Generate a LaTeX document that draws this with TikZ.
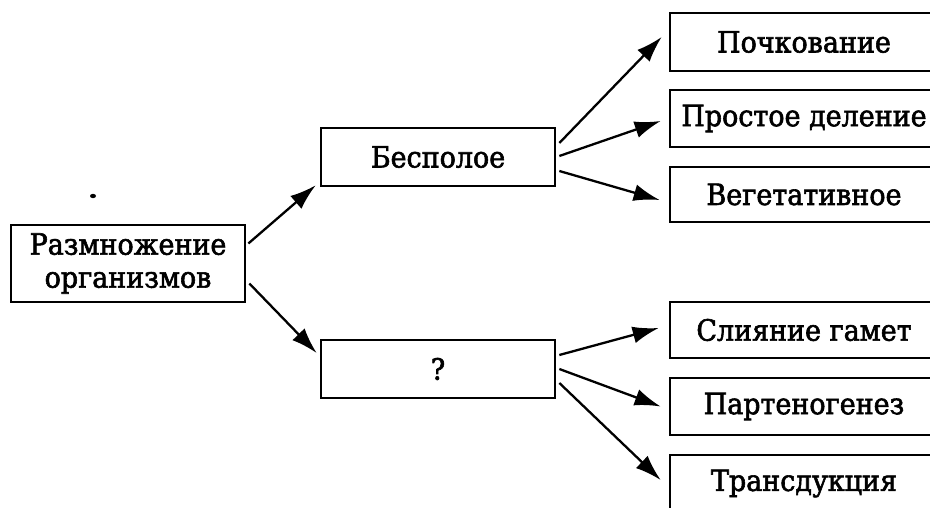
\documentclass[tikz,border=0pt]{standalone}
\usepackage{fontspec}
\setmainfont{DejaVu Serif}[FakeBold=2,FakeStretch=0.92]
\usetikzlibrary{arrows.meta}
\begin{document}
\begin{tikzpicture}[x=1pt,y=-1pt,
  box/.style={draw=black,line width=2.7pt,rectangle,inner sep=0pt,align=center,
    font=\fontsize{29.3}{33}\selectfont},
  arr/.style={line width=2.3pt,-{Latex[length=26pt,width=17pt]}}]
\path[use as bounding box] (0,0) rectangle (930,508);
\clip (0,0) rectangle (930,508);
\node[box,minimum width=234pt,minimum height=77pt] (root) at (128,263.5) {Размножение\\организмов};
\node[box,minimum width=234pt,minimum height=58pt] (bes) at (438,157) {Бесполое};
\node[box,minimum width=234pt,minimum height=58pt] (q) at (438,369) {?};
\node[box,minimum width=268pt,minimum height=58pt] (poch) at (804,42) {Почкование};
\node[box,minimum width=268pt,minimum height=57pt] (pros) at (804,118.5) {Простое деление};
\node[box,minimum width=268pt,minimum height=55pt] (veg) at (804,194.5) {Вегетативное};
\node[box,minimum width=268pt,minimum height=56pt] (sli) at (804,330) {Слияние гамет};
\node[box,minimum width=268pt,minimum height=57pt] (par) at (804,406.5) {Партеногенез};
\node[box,minimum width=268pt,minimum height=57pt] (tra) at (804,483.5) {Трансдукция};
\fill (93,196) ellipse (3pt and 2.2pt);
\draw[arr] ([xshift=2pt,yshift=20pt]root.east) -- ([xshift=-4pt,yshift=2pt]bes.south west);
\draw[arr] ([xshift=3pt,yshift=-20pt]root.east) -- ([xshift=-3pt,yshift=16pt]q.west);
\draw[arr] ([xshift=3pt,yshift=14pt]bes.east) -- ([xshift=-7pt,yshift=5pt]poch.west);
\draw[arr] ([xshift=3pt,yshift=1pt]bes.east) -- ([xshift=-8pt,yshift=-2.5pt]pros.west);
\draw[arr] ([xshift=3pt,yshift=-14pt]bes.east) -- ([xshift=-9pt,yshift=-5.5pt]veg.west);
\draw[arr] ([xshift=3pt,yshift=14pt]q.east) -- ([xshift=-10pt,yshift=2pt]sli.west);
\draw[arr] ([xshift=3pt,yshift=0pt]q.east) -- ([xshift=-8pt,yshift=0pt]par.west);
\draw[arr] ([xshift=3pt,yshift=-14pt]q.east) -- ([xshift=-8pt,yshift=3.5pt]tra.west);
\end{tikzpicture}
\end{document}
